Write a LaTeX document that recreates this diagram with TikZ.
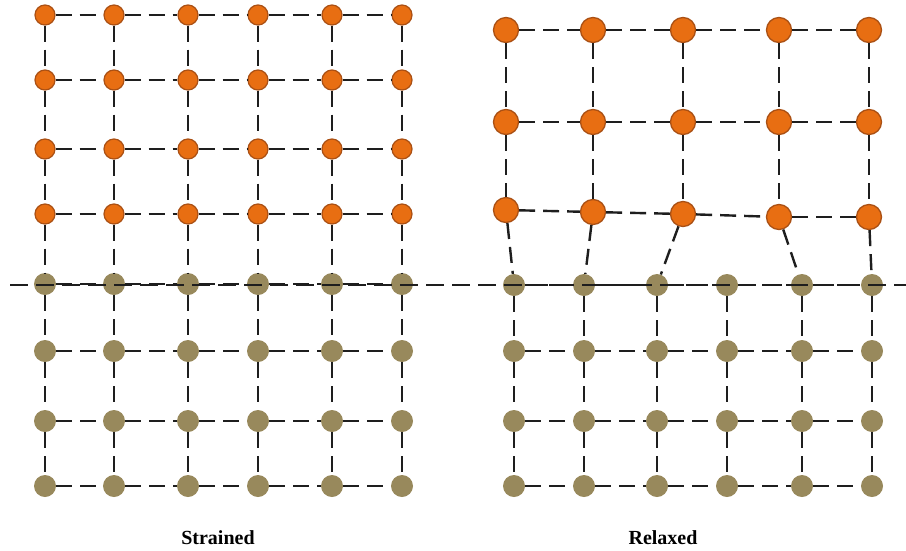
\documentclass[tikz,border=0pt]{standalone}
\usepackage{fontspec}
\setmainfont{Liberation Serif}
\definecolor{cuatom}{RGB}{232,110,18}
\definecolor{cuedge}{RGB}{170,80,20}
\definecolor{subatom}{RGB}{152,137,92}
\definecolor{bondcol}{RGB}{30,30,30}
\begin{document}
\begin{tikzpicture}[x=1pt,y=-1pt,
  bond/.style={draw=bondcol, line width=2.4pt, dash pattern=on 16pt off 8pt},
  interface/.style={draw=bondcol, line width=2.4pt, dash pattern=on 18pt off 8pt},
  filmS/.style={circle, fill=cuatom, draw=cuedge, line width=1.2pt, minimum size=20pt, inner sep=0pt},
  filmR/.style={circle, fill=cuatom, draw=cuedge, line width=1.3pt, minimum size=25pt, inner sep=0pt},
  substrate/.style={circle, fill=subatom, draw=none, minimum size=22pt, inner sep=0pt},
  caption/.style={font=\fontsize{20}{24}\selectfont\bfseries}
]
\useasboundingbox (0,0) rectangle (906,550);

% ---------- strained lattice ----------
\foreach \x [count=\i] in {45,114,188,258,332,402} {
  \foreach \y [count=\j] in {15,80,149,214} {
    \node[filmS] (lo-\i-\j) at (\x,\y) {};
  }
  \foreach \y [count=\j] in {284,351,421,486} {
    \node[substrate] (lg-\i-\j) at (\x,\y) {};
  }
}
% horizontal bonds
\foreach \i [evaluate=\i as \k using int(\i+1)] in {1,...,5} {
  \foreach \j in {1,...,4} {
    \draw[bond] (lo-\i-\j) -- (lo-\k-\j);
    \draw[bond] (lg-\i-\j) -- (lg-\k-\j);
  }
}
% vertical bonds
\foreach \i in {1,...,6} {
  \foreach \j [evaluate=\j as \k using int(\j+1)] in {1,...,3} {
    \draw[bond] (lo-\i-\j) -- (lo-\i-\k);
    \draw[bond] (lg-\i-\j) -- (lg-\i-\k);
  }
  \draw[bond] (lo-\i-4) -- (lg-\i-1);
}

% ---------- relaxed lattice ----------
\foreach \x/\yc [count=\i] in {506/210,593/212,683/214,779/217,869/217} {
  \node[filmR] (ro-\i-1) at (\x,30) {};
  \node[filmR] (ro-\i-2) at (\x,122) {};
  \node[filmR] (ro-\i-3) at (\x,\yc) {};
}
\foreach \x [count=\i] in {514,584,657,727,802,872} {
  \foreach \y [count=\j] in {285,351,421,486} {
    \node[substrate] (rg-\i-\j) at (\x,\y) {};
  }
}
% film bonds
\foreach \i [evaluate=\i as \k using int(\i+1)] in {1,...,4} {
  \foreach \j in {1,...,3} {
    \draw[bond] (ro-\i-\j) -- (ro-\k-\j);
  }
}
\foreach \i in {1,...,5} {
  \draw[bond] (ro-\i-1) -- (ro-\i-2);
  \draw[bond] (ro-\i-2) -- (ro-\i-3);
}
% substrate bonds
\foreach \i [evaluate=\i as \k using int(\i+1)] in {1,...,5} {
  \foreach \j in {1,...,4} {
    \draw[bond] (rg-\i-\j) -- (rg-\k-\j);
  }
}
\foreach \i in {1,...,6} {
  \draw[bond] (rg-\i-1) -- (rg-\i-2);
  \draw[bond] (rg-\i-2) -- (rg-\i-3);
  \draw[bond] (rg-\i-3) -- (rg-\i-4);
}
% bonds across the interface (column 4 of the substrate is left unbonded)
\draw[bond] (ro-1-3) -- (rg-1-1);
\draw[bond] (ro-2-3) -- (rg-2-1);
\draw[bond] (ro-3-3) -- (rg-3-1);
\draw[bond] (ro-4-3) -- (rg-5-1);
\draw[bond] (ro-5-3) -- (rg-6-1);

% ---------- interface line ----------
\coordinate (ifL) at (10,285);
\coordinate (ifR) at (906,285);
\draw[interface] (ifL) -- (ifR);

% ---------- captions ----------
\node[caption] (strained) at (218,538) {Strained};
\node[caption] (relaxed) at (663,538) {Relaxed};
\end{tikzpicture}
\end{document}
